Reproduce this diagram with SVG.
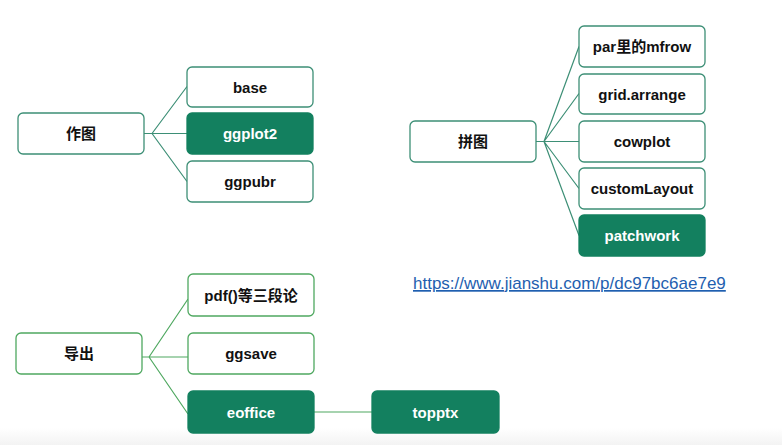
<svg xmlns="http://www.w3.org/2000/svg" width="782" height="445" viewBox="0 0 782 445">
<defs>
<linearGradient id="bot" x1="0" y1="0" x2="0" y2="1">
<stop offset="0" stop-color="#ffffff"/>
<stop offset="1" stop-color="#f3f3f3"/>
</linearGradient>
</defs>
<style>
.n{fill:#ffffff;stroke:#3d8f76;stroke-width:1.3}
.g{stroke:#4fa860}
.d{fill:#13805f;stroke:#13805f}
.t{font-family:"Liberation Sans","Noto Sans CJK SC",sans-serif;font-size:15px;font-weight:bold;fill:#111;text-anchor:middle;dominant-baseline:central}
.w{fill:#ffffff}
.c{stroke:#3d8f76;stroke-width:1.2;fill:none}
.cg{stroke:#4fa860}
</style>
<rect x="0" y="0" width="782" height="445" fill="#ffffff"/>
<rect x="0" y="428" width="782" height="17" fill="url(#bot)"/>
<g id="connectors">
<path class="c" d="M144 133.5H152M152 133.5L187 86.5M152 133.5H187M152 133.5L187 181.5"/>
<path class="c" d="M536 141.5H544M544 141.5L579 46.5M544 141.5L579 93.5M544 141.5H579M544 141.5L579 188.5M544 141.5L579 235.5"/>
<path class="c cg" d="M142 357H149M149 357L188 299M149 357H188M149 357L188 414M314 412H372"/>
</g>
<g id="zuotu"><rect class="n" x="18" y="113" width="126" height="41" rx="5"/><text class="t" x="81" y="133.5">作图</text></g>
<g id="base"><rect class="n" x="187" y="67" width="126" height="40" rx="5"/><text class="t" x="250" y="87">base</text></g>
<g id="ggplot2"><rect class="n d" x="187" y="113" width="126" height="41" rx="5"/><text class="t w" x="250" y="133.5">ggplot2</text></g>
<g id="ggpubr"><rect class="n" x="187" y="161" width="126" height="41" rx="5"/><text class="t" x="250" y="181.5">ggpubr</text></g>
<g id="pintu"><rect class="n" x="410" y="121" width="126" height="41" rx="5"/><text class="t" x="473" y="141.5">拼图</text></g>
<g id="par"><rect class="n" x="579" y="26" width="126" height="41" rx="5"/><text class="t" x="642" y="46.5">par里的mfrow</text></g>
<g id="grid"><rect class="n" x="579" y="74" width="126" height="40" rx="5"/><text class="t" x="642" y="94">grid.arrange</text></g>
<g id="cowplot"><rect class="n" x="579" y="121" width="126" height="41" rx="5"/><text class="t" x="642" y="141.5">cowplot</text></g>
<g id="customLayout"><rect class="n" x="579" y="168" width="126" height="41" rx="5"/><text class="t" x="642" y="188.5">customLayout</text></g>
<g id="patchwork"><rect class="n d" x="579" y="215" width="126" height="41" rx="5"/><text class="t w" x="642" y="235.5">patchwork</text></g>
<g id="url"><text x="413" y="289" font-family="Liberation Sans, Arial, sans-serif" font-size="17" fill="#1f5fb0" text-decoration="underline">https://www.jianshu.com/p/dc97bc6ae7e9</text></g>
<g id="daochu"><rect class="n g" x="16" y="333" width="126" height="41" rx="5"/><text class="t" x="79" y="353.5">导出</text></g>
<g id="pdf"><rect class="n g" x="188" y="274" width="126" height="42" rx="5"/><text class="t" x="251" y="295">pdf()等三段论</text></g>
<g id="ggsave"><rect class="n g" x="188" y="333" width="126" height="41" rx="5"/><text class="t" x="251" y="353.5">ggsave</text></g>
<g id="eoffice"><rect class="n d" x="188" y="391" width="126" height="42" rx="5"/><text class="t w" x="251" y="412">eoffice</text></g>
<g id="topptx"><rect class="n d" x="372" y="391" width="127" height="42" rx="5"/><text class="t w" x="435.5" y="412">topptx</text></g>
</svg>
